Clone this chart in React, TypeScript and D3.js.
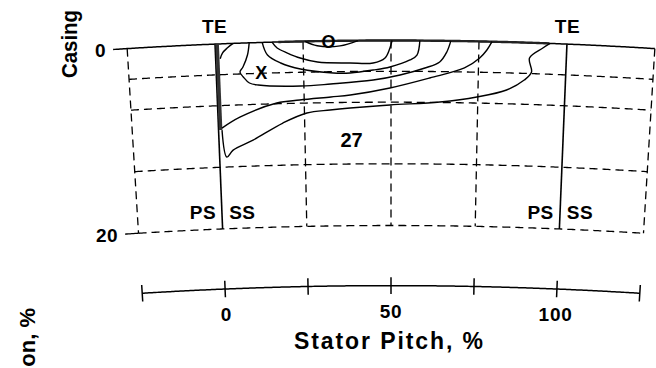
import React from "react";
import * as d3 from "d3";

// Annular sector geometry: pitch runs along the arc, immersion runs radially inward.
const W = 656;
const H = 368;
const R0 = 4300; // casing radius in px
const CX = 391;
const CY = 40.5 + R0;
const PX_PER_PITCH = 3.52;
const PX_PER_DEPTH = 9.25;

// Axes / grid
const pitchTicks = [-25, 0, 25, 50, 75, 100, 125];
const pitchTickLabels = [0, 50, 100];
const dashedPitch = [-25, 25, 50, 75, 125];
const bladePitch = [0, 100];
const dashedDepth = [3.33, 6.67, 13.33, 20];
const depthLabels = [0, 20];
const axisDepth = 26.5;

// Contour lines, [pitch %, immersion %]
const contourInner: [number, number][] = [[25.6, 0], [29, 0.5], [35.5, 0.55], [40.6, 0]];
const contourA: [number, number][] = [
  [16.2, 0], [17.6, 0.65], [20.5, 1.22], [24.1, 1.79], [29.0, 2.26], [38.3, 2.41],
  [44.9, 2.43], [48.3, 1.89], [49.7, 0.81], [50.3, 0],
];
const contourB: [number, number][] = [
  [13.4, 0], [14.8, 1.38], [18.5, 2.28], [24.1, 2.98], [33.5, 3.47], [38.3, 3.49],
  [44.9, 3.19], [49.7, 2.86], [55.4, 2.1], [57.4, 1.56], [58.2, 0],
];
const contourC: [number, number][] = [
  [9.7, 0], [9.1, 1.31], [7.7, 2.59], [6.8, 3.12], [7.7, 3.67], [9.4, 4.34], [11.9, 4.59],
  [24.1, 4.82], [32.7, 4.66], [44.9, 4.27], [52.6, 3.73], [59.7, 2.96], [63.9, 2.29],
  [65.9, 1.2], [67.0, 0],
];
const contourCorner: [number, number][] = [[5.1, 0], [3.4, 0.48], [2.0, 1.0], [1.3, 1.6]];
const contourD: [number, number][] = [
  [1.0, 9.1], [6.3, 7.99], [17.1, 6.59], [23.7, 6.33], [32.7, 6.06], [38.3, 5.87],
  [49.7, 5.13], [61.1, 4.03], [71.0, 2.9], [75.3, 1.79], [77.3, 0.91], [78.7, 0],
];
const contourE: [number, number][] = [
  [1.0, 9.32], [2.1, 12.26], [4.0, 11.53], [9.9, 10.52], [18.7, 8.77], [25.7, 7.75],
  [32.4, 7.47], [38.2, 7.28], [49.7, 6.97], [64.1, 6.62], [74.7, 6.02], [83.2, 5.18],
  [88.2, 4.05], [90.2, 3.16], [89.5, 1.65], [93.2, 0.52], [95.2, 0],
];
const contours = [contourInner, contourA, contourB, contourC, contourCorner, contourD, contourE];

// Wake band along the trailing edge
const wakeBand: [number, number][] = [[0.6, 0], [0.6, 9.3]];

// Annotations, [pitch, immersion, text]
const minMark: [number, number, string] = [32.2, 0.76, "O"];
const maxMark: [number, number, string] = [12.8, 3.95, "X"];
const levelLabel: [number, number, string] = [38.5, 11.5, "27"];

const angle = d3.scaleLinear().domain([0, 100]).range([(-50 * PX_PER_PITCH) / R0, (50 * PX_PER_PITCH) / R0]);
const radius = d3.scaleLinear().domain([0, 20]).range([R0, R0 - 20 * PX_PER_DEPTH]);

function proj(p: number, d: number): [number, number] {
  const a = angle(p);
  const r = radius(d);
  return [CX + r * Math.sin(a), CY - r * Math.cos(a)];
}

const line = d3.line<[number, number]>();
const smooth = d3.line<[number, number]>().curve(d3.curveCatmullRom.alpha(0.5));

function arcPath(d: number, p0: number, p1: number) {
  const pts = d3.range(p0, p1 + 0.001, 0.5).map((p) => proj(p, d));
  return line(pts) as string;
}
function radialPath(p: number, d0: number, d1: number) {
  return line([proj(p, d0), proj(p, d1)]) as string;
}

const FONT = "'Liberation Sans', Arial, Helvetica, sans-serif";
const dash = "8,5";

export default function App() {
  const casingTickEnd = proj(-29, 0);
  const bottomTickEnd = proj(-29, 20);
  return (
    <svg
      width={W}
      height={H}
      viewBox={`0 0 ${W} ${H}`}
      style={{ position: "fixed", left: 0, top: 0, background: "#fff" }}
      fontFamily={FONT}
      fontWeight="bold"
    >
      <rect width={W} height={H} fill="#fff" />
      {/* dashed radial grid */}
      {dashedPitch.map((p) => (
        <path key={"rp" + p} d={radialPath(p, 0, 20)} stroke="#000" strokeWidth={1.3} strokeDasharray={dash} fill="none" />
      ))}
      {/* dashed immersion arcs */}
      {dashedDepth.map((d) => (
        <path key={"ad" + d} d={arcPath(d, -25, 125)} stroke="#000" strokeWidth={1.3} strokeDasharray={dash} fill="none" />
      ))}
      {/* casing and immersion ticks */}
      <path d={arcPath(0, -29, 125)} stroke="#000" strokeWidth={1.5} fill="none" />
      <path d={arcPath(0, 18, 95)} stroke="#222" strokeWidth={2.4} fill="none" />
      <path d={arcPath(20, -29, -25)} stroke="#000" strokeWidth={1.3} fill="none" />
      {/* blade trailing edges */}
      {bladePitch.map((p) => (
        <path key={"b" + p} d={radialPath(p, 0, 20)} stroke="#000" strokeWidth={1.6} fill="none" />
      ))}
      <path d={line(wakeBand.map(([p, d]) => proj(p, d))) as string} stroke="#333" strokeWidth={3.5} fill="none" />
      {/* contours */}
      {contours.map((c, i) => (
        <path key={"c" + i} d={smooth(c.map(([p, d]) => proj(p, d))) as string} stroke="#000" strokeWidth={1.4} fill="none" />
      ))}
      {/* extremum marks and level label */}
      {[minMark, maxMark].map(([p, d, t]) => {
        const [x, y] = proj(p, d);
        return (
          <text key={t} x={x} y={y} fontSize={18} textAnchor="middle" fill="#000">
            {t}
          </text>
        );
      })}
      {(() => {
        const [x, y] = proj(levelLabel[0], levelLabel[1]);
        return (
          <text x={x} y={y} fontSize={20} textAnchor="middle" fill="#000">
            {levelLabel[2]}
          </text>
        );
      })()}
      {/* TE / PS / SS labels */}
      {bladePitch.map((p) => {
        const [x, y] = proj(p, -1.25);
        const [xb, yb] = proj(p, 18.9);
        return (
          <g key={"lbl" + p}>
            <text x={x} y={y} fontSize={19} textAnchor="middle" letterSpacing={0.5}>TE</text>
            <text x={xb - 6} y={yb} fontSize={19} textAnchor="end" letterSpacing={0.5}>PS</text>
            <text x={xb + 7} y={yb} fontSize={19} textAnchor="start" letterSpacing={0.5}>SS</text>
          </g>
        );
      })}
      {/* immersion labels */}
      {depthLabels.map((d) => {
        const [x, y] = d === 0 ? casingTickEnd : bottomTickEnd;
        return (
          <text key={"dl" + d} x={x - 7} y={y + 8} fontSize={19} textAnchor="end" letterSpacing={0.5}>
            {d}
          </text>
        );
      })}
      <text transform="translate(77,78) rotate(-90)" fontSize={22} textLength={68} lengthAdjust="spacingAndGlyphs">
        Casing
      </text>
      <text transform="translate(35,308) rotate(-90)" fontSize={22} textAnchor="end">
        Immersion, %
      </text>
      {/* pitch axis */}
      <path d={arcPath(axisDepth, -25, 125)} stroke="#000" strokeWidth={1.5} fill="none" />
      {pitchTicks.map((p) => (
        <path key={"t" + p} d={radialPath(p, axisDepth - 0.9, axisDepth + 0.9)} stroke="#000" strokeWidth={1.5} />
      ))}
      {pitchTickLabels.map((p) => {
        const [x, y] = proj(p, axisDepth + 3.5);
        return (
          <text key={"pl" + p} x={x} y={y} fontSize={19} textAnchor="middle" letterSpacing={0.8}>
            {p}
          </text>
        );
      })}
      <text x={388.5} y={349} fontSize={23} textAnchor="middle" textLength={189} lengthAdjust="spacing">
        Stator Pitch, %
      </text>
    </svg>
  );
}
